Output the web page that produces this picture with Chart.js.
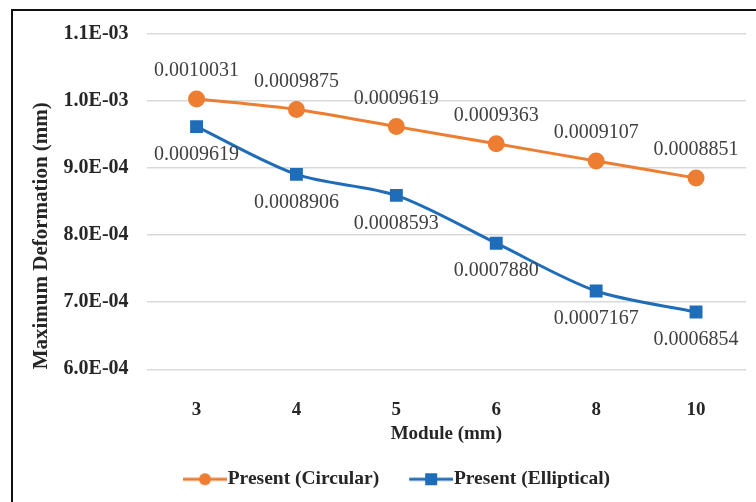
<!DOCTYPE html>
<html>
<head>
<meta charset="utf-8">
<script src="https://cdn.jsdelivr.net/npm/chart.js@4/dist/chart.umd.min.js"></script>
<style>
    html, body { margin: 0; padding: 0; background: #fff; }
    #frame {
        position: absolute;
        left: 11px; top: 9px;
        width: 760px; height: 491px;
        border-left: 2px solid #111;
        border-top: 2px solid #111;
        border-bottom: 2px solid #111;
    }
    #wrap { position: absolute; left: 0; top: 0; width: 756px; height: 502px; }
</style>
</head>
<body>
<div id="frame"></div>
<div id="wrap"><canvas id="chart" width="756" height="502"></canvas></div>
<script>
const modules = ["3", "4", "5", "6", "8", "10"];
const circular = [0.0010031, 0.0009875, 0.0009619, 0.0009363, 0.0009107, 0.0008851];
const elliptical = [0.0009619, 0.0008906, 0.0008593, 0.0007880, 0.0007167, 0.0006854];
const yTicks = [0.0006, 0.0007, 0.0008, 0.0009, 0.0010, 0.0011];

const ORANGE = "#ED7D31";
const BLUE = "#1F6DB8";
const SERIF = "'Liberation Serif', 'Times New Roman', serif";

function sci(v) {
    // 0.0011 -> "1.1E-03"
    const [m, e] = v.toExponential(1).split("e");
    const n = parseInt(e, 10);
    const sign = n < 0 ? "-" : "+";
    return m + "E" + sign + String(Math.abs(n)).padStart(2, "0");
}

// line + marker sample for the legend, like the Excel one.
// transparent room on the left gives the gap between legend items
function legendSwatch(color, shape) {
    const c = document.createElement("canvas");
    c.width = 73; c.height = 16;
    const g = c.getContext("2d");
    const x0 = 29;
    g.strokeStyle = color;
    g.lineWidth = 3;
    g.beginPath(); g.moveTo(x0, 8); g.lineTo(x0 + 44, 8); g.stroke();
    g.fillStyle = color;
    if (shape === "circle") {
        g.beginPath(); g.arc(x0 + 22, 8, 6, 0, Math.PI * 2); g.fill();
    } else {
        g.fillRect(x0 + 16, 2, 12, 12);
    }
    return c;
}

const valueLabels = {
    id: "valueLabels",
    afterDatasetsDraw(chart) {
        const ctx = chart.ctx;
        ctx.save();
        ctx.font = "20px " + SERIF;
        ctx.fillStyle = "#404040";
        ctx.textAlign = "center";
        ctx.textBaseline = "middle";
        chart.data.datasets.forEach((ds, i) => {
            const meta = chart.getDatasetMeta(i);
            meta.data.forEach((pt, j) => {
                const dy = ds.labelAbove ? -28 : 28;
                ctx.fillText(ds.data[j].toFixed(7), pt.x, pt.y + dy);
            });
        });
        ctx.restore();
    }
};

new Chart(document.getElementById("chart"), {
    type: "line",
    data: {
        labels: modules,
        datasets: [
            {
                label: "Present (Circular)",
                data: circular,
                borderColor: ORANGE,
                backgroundColor: ORANGE,
                pointStyle: "circle",
                pointRadius: 7,
                borderWidth: 3,
                tension: 0.3,
                labelAbove: true
            },
            {
                label: "Present (Elliptical)",
                data: elliptical,
                borderColor: BLUE,
                backgroundColor: BLUE,
                pointStyle: "rect",
                pointRadius: 7,
                borderWidth: 3,
                tension: 0.3,
                labelAbove: false
            }
        ]
    },
    options: {
        responsive: false,
        animation: false,
        layout: { padding: { left: 26, top: 34, right: 9, bottom: 3 } },
        plugins: {
            tooltip: { enabled: false },
            legend: {
                position: "bottom",
                labels: {
                    usePointStyle: true,
                    pointStyleWidth: 55,
                    padding: 10,
                    color: "#262626",
                    font: { family: SERIF, size: 19.5, weight: "bold" },
                    generateLabels: chart => chart.data.datasets.map((ds, i) => ({
                        text: ds.label,
                        datasetIndex: i,
                        fontColor: "#262626",
                        pointStyle: legendSwatch(ds.borderColor, i === 0 ? "circle" : "rect"),
                        lineWidth: 0,
                        strokeStyle: "transparent",
                        fillStyle: "transparent"
                    }))
                }
            }
        },
        scales: {
            x: {
                offset: true,
                grid: { color: "transparent", drawTicks: true, tickLength: 28.6, tickColor: "transparent" },
                border: { display: false },
                ticks: {
                    padding: 1,
                    color: "#262626",
                    font: { family: SERIF, size: 19, weight: "bold" }
                },
                title: {
                    display: true,
                    text: "Module (mm)",
                    color: "#262626",
                    padding: { top: 0, bottom: 14 },
                    font: { family: SERIF, size: 19, weight: "bold" }
                }
            },
            y: {
                min: yTicks[0],
                max: yTicks[yTicks.length - 1],
                afterBuildTicks: axis => { axis.ticks = yTicks.map(v => ({ value: v })); },
                grid: { color: "#D9D9D9", lineWidth: 1.5, drawTicks: true, tickLength: 14, tickColor: "transparent" },
                border: { display: false },
                ticks: {
                    padding: 4,
                    color: "#262626",
                    font: { family: SERIF, size: 20, weight: "bold" },
                    callback: v => sci(v)
                },
                title: {
                    display: true,
                    text: "Maximum Deformation (mm)",
                    align: "start",
                    color: "#262626",
                    padding: { top: 3.4, bottom: 5 },
                    font: { family: SERIF, size: 21, weight: "bold" }
                }
            }
        }
    },
    plugins: [valueLabels]
});
</script>
</body>
</html>
